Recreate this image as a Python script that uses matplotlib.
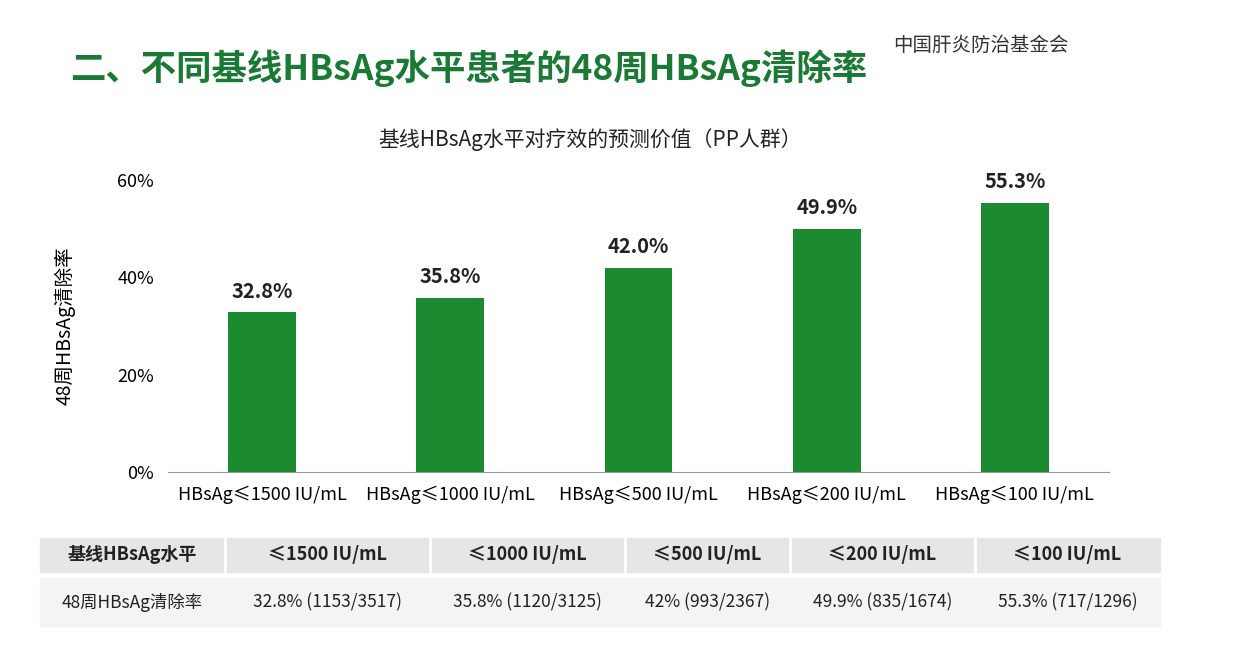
import matplotlib
matplotlib.use("Agg")
import matplotlib.pyplot as plt
from matplotlib.patches import Rectangle

plt.rcParams["font.family"] = ["Noto Sans CJK SC", "DejaVu Sans"]

categories = ["HBsAg≤1500 IU/mL", "HBsAg≤1000 IU/mL", "HBsAg≤500 IU/mL",
              "HBsAg≤200 IU/mL", "HBsAg≤100 IU/mL"]
rates = [32.8, 35.8, 42.0, 49.9, 55.3]
table_header = ["基线HBsAg水平", "≤1500 IU/mL", "≤1000 IU/mL", "≤500 IU/mL",
                "≤200 IU/mL", "≤100 IU/mL"]
table_row = ["48周HBsAg清除率", "32.8% (1153/3517)", "35.8% (1120/3125)",
             "42% (993/2367)", "49.9% (835/1674)", "55.3% (717/1296)"]

W, H = 1241, 652
fig = plt.figure(figsize=(W / 100, H / 100), dpi=100)
fig.patch.set_facecolor("white")

green = "#1c8a30"
fig.text(70 / W, 1 - 68 / H, "二、不同基线HBsAg水平患者的48周HBsAg清除率",
         fontsize=25.5, fontweight="bold", color="#1a7a35", va="center")
fig.text(893 / W, 1 - 45 / H, "中国肝炎防治基金会", fontsize=14, color="#333333", va="center")
fig.text(590 / W, 1 - 140 / H, "基线HBsAg水平对疗效的预测价值（PP人群）",
         fontsize=15, color="#222222", ha="center", va="center")

ax = fig.add_axes([168 / W, 1 - 472 / H, (1109 - 168) / W, (472 - 180) / H])
x = range(len(categories))
ax.bar(x, rates, width=0.36, color=green)
for xi, v in zip(x, rates):
    ax.text(xi, v + 2.2, f"{v:.1f}%", ha="center", va="bottom",
            fontsize=14.5, fontweight="bold", color="#222222")
ax.set_xlim(-0.5, len(categories) - 0.5)
ax.set_ylim(0, 60)
ax.set_yticks([0, 20, 40, 60])
ax.set_yticklabels(["0%", "20%", "40%", "60%"], fontsize=13)
ax.set_xticks(list(x))
ax.set_xticklabels(categories, fontsize=13)
ax.tick_params(length=0, pad=10)
for s in ["top", "right", "left"]:
    ax.spines[s].set_visible(False)
ax.spines["bottom"].set_color("#999999")
ax.set_ylabel("48周HBsAg清除率", fontsize=14, labelpad=30)

# table
edges = [40, 225, 430, 625, 790, 975, 1160]
tax = fig.add_axes([0, 0, 1, 1])
tax.set_xlim(0, W)
tax.set_ylim(H, 0)
tax.axis("off")
tax.add_patch(Rectangle((40, 538), 1120, 34, color="#e6e6e6", zorder=0))
tax.add_patch(Rectangle((40, 578), 1120, 48, color="#f4f4f4", zorder=0))
for i in range(len(table_header)):
    cx = (edges[i] + edges[i + 1]) / 2
    tax.text(cx, 555, table_header[i], ha="center", va="center",
             fontsize=13, fontweight="bold", color="#222222")
    tax.text(cx, 602, table_row[i], ha="center", va="center",
             fontsize=12.5, color="#222222")
for e in edges[1:-1]:
    tax.plot([e, e], [538, 572], color="white", lw=2)

fig.savefig("out.png", dpi=100)
